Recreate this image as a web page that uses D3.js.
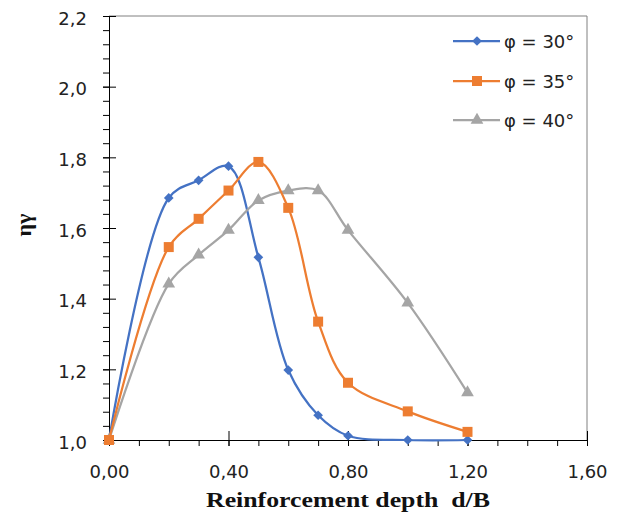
<!DOCTYPE html>
<html>
<head>
<meta charset="utf-8">
<script src="https://cdn.jsdelivr.net/npm/d3@7"></script>
<style>
  html, body { margin: 0; padding: 0; background: #fff; }
  svg { display: block; }
</style>
</head>
<body>
<svg id="chart" width="627" height="526"></svg>
<script>
// ---- data ----
const depths = [0, 0.2, 0.3, 0.4, 0.5, 0.6, 0.7, 0.8, 1.0, 1.2];
const phi30 = [1.0, 1.685, 1.735, 1.775, 1.517, 1.198, 1.07, 1.012, 1.0, 1.0];
const phi35 = [1.0, 1.546, 1.626, 1.706, 1.787, 1.657, 1.335, 1.162, 1.081, 1.023];
const phi40 = [1.0, 1.442, 1.524, 1.594, 1.678, 1.706, 1.706, 1.594, 1.388, 1.134];
const seriesNames = ["φ = 30°", "φ = 35°", "φ = 40°"];
const xTicks = [0, 0.4, 0.8, 1.2, 1.6];
const yTicks = [1.0, 1.2, 1.4, 1.6, 1.8, 2.0, 2.2];
const xTitle = "Reinforcement depth  d/B";
const yTitle = "ηγ";

const colors = ["#4472C4", "#ED7D31", "#A5A5A5"];
const symbols = [d3.symbolDiamond2, d3.symbolSquare, d3.symbolTriangle];
const symSizes = [60, 100, 70];

const svg = d3.select("#chart");
const L = 109, R = 587, T = 16, B = 440;
const x = d3.scaleLinear().domain([0, 1.6]).range([L, R]);
const y = d3.scaleLinear().domain([1.0, 2.2]).range([B, T]);

const fmtY = v => d3.format(".1f")(v).replace(".", ",");
const fmtX = v => d3.format(".2f")(v).replace(".", ",");

// plot border (top/right grey)
svg.append("path")
  .attr("d", `M${L},${T}H${R}V${B}`)
  .attr("fill", "none").attr("stroke", "#808080").attr("stroke-width", 1);

// minor ticks
const yMinor = d3.range(1.0, 2.2001, 0.04);
const xMinor = d3.range(0, 1.6001, 0.1);
svg.append("g").attr("transform", `translate(${L},0)`)
  .call(d3.axisLeft(y).tickValues(yMinor).tickSize(6).tickFormat(""))
  .call(g => g.select(".domain").remove());
svg.append("g").attr("transform", `translate(0,${B})`)
  .call(d3.axisBottom(x).tickValues(xMinor).tickSize(6).tickFormat(""))
  .call(g => g.select(".domain").remove());
// inner half of major ticks
svg.append("g").attr("transform", `translate(${L},0)`)
  .call(d3.axisLeft(y).tickValues(yTicks).tickSize(-7).tickFormat(""))
  .call(g => g.select(".domain").remove());
svg.append("g").attr("transform", `translate(0,${B})`)
  .call(d3.axisBottom(x).tickValues(xTicks).tickSize(-9).tickFormat(""))
  .call(g => g.select(".domain").remove());

// main axes with labels
const yAx = svg.append("g").attr("transform", `translate(${L},0)`)
  .call(d3.axisLeft(y).tickValues(yTicks).tickSize(6).tickPadding(16).tickFormat(fmtY).tickSizeOuter(0));
const xAx = svg.append("g").attr("transform", `translate(0,${B})`)
  .call(d3.axisBottom(x).tickValues(xTicks).tickSize(6).tickPadding(19).tickFormat(fmtX).tickSizeOuter(0));
[yAx, xAx].forEach(g => {
  g.selectAll("text").attr("font-family", "DejaVu Sans, sans-serif").attr("font-size", 18).attr("fill", "#222");
  g.select(".domain").attr("stroke", "#000");
});
yAx.selectAll("text").attr("dy", "0.45em");
svg.selectAll(".tick line").attr("stroke", "#000");

// series
const allSeries = [phi30, phi35, phi40];
const line = d3.line().x(d => x(d[0])).y(d => y(d[1])).curve(d3.curveCatmullRom.alpha(0.5));
const drawOrder = [0, 2, 1];
drawOrder.forEach(i => {
  const vals = allSeries[i];
  const pts = depths.map((d, j) => [d, vals[j]]);
  svg.append("path").datum(pts)
    .attr("d", line)
    .attr("fill", "none")
    .attr("stroke", colors[i])
    .attr("stroke-width", 2.25);
  svg.append("g").selectAll("path").data(pts).join("path")
    .attr("transform", d => `translate(${x(d[0])},${y(d[1])})`)
    .attr("d", d3.symbol().type(symbols[i]).size(symSizes[i]))
    .attr("fill", colors[i]);
});

// legend
const legY = [41, 81, 120];
seriesNames.forEach((name, i) => {
  const g = svg.append("g");
  g.append("line").attr("x1", 453).attr("x2", 500).attr("y1", legY[i]).attr("y2", legY[i])
    .attr("stroke", colors[i]).attr("stroke-width", 2.25);
  g.append("path").attr("transform", `translate(477,${legY[i]})`)
    .attr("d", d3.symbol().type(symbols[i]).size(symSizes[i]))
    .attr("fill", colors[i]);
  g.append("text").attr("x", 504).attr("y", legY[i] + 7)
    .attr("font-family", "DejaVu Sans, sans-serif").attr("font-size", 18).attr("fill", "#222")
    .text(name);
});

// axis titles
svg.append("text")
  .attr("x", 206).attr("y", 507)
  .attr("font-family", "Liberation Serif, Times New Roman, serif")
  .attr("font-weight", "bold").attr("font-size", 22)
  .attr("textLength", 284).attr("lengthAdjust", "spacingAndGlyphs")
  .style("white-space", "pre")
  .attr("fill", "#111")
  .text(xTitle);
svg.append("text")
  .attr("transform", "translate(31,225) rotate(-90)")
  .attr("text-anchor", "middle")
  .attr("font-family", "Liberation Serif, Times New Roman, serif")
  .attr("font-weight", "bold").attr("font-size", 22)
  .attr("fill", "#111")
  .text(yTitle);
</script>
</body>
</html>
